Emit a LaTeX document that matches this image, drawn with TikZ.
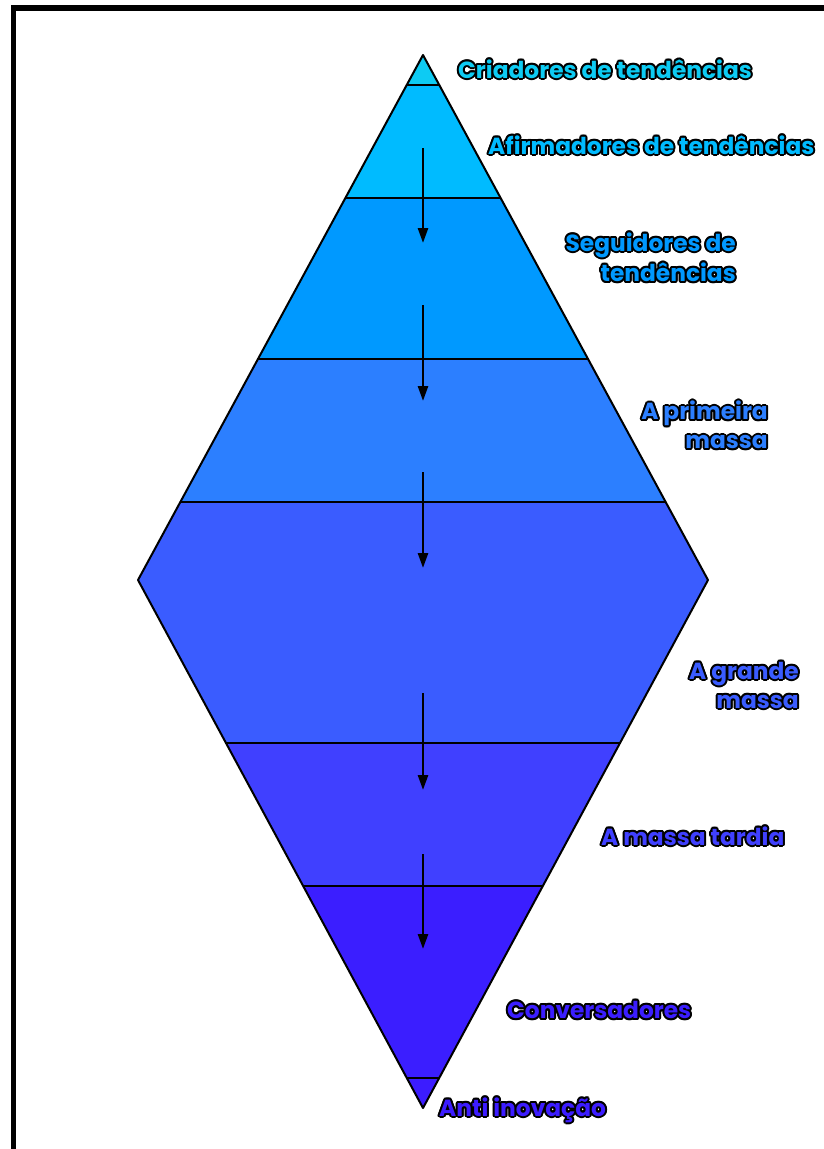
\documentclass[tikz,border=0pt]{standalone}
\usepackage{fontspec}
\setmainfont{Poppins}[BoldFont={* Bold}]
\usetikzlibrary{arrows.meta}
\definecolor{cA}{HTML}{0DCBF3}
\definecolor{cB}{HTML}{00BBFF}
\definecolor{cC}{HTML}{0099FF}
\definecolor{cD}{HTML}{2C7FFF}
\definecolor{cE}{HTML}{3A5CFF}
\definecolor{cF}{HTML}{4040FF}
\definecolor{cG}{HTML}{3B1EFF}
\definecolor{cH}{HTML}{3C1CFF}
\newcommand\outl[2]{\leavevmode\foreach \a in {0,30,...,330}{\rlap{\kern\fpeval{2.0*cosd(\a)}pt\raisebox{\fpeval{2.0*sind(\a)}pt}{\color{black}#2}}}\textcolor{#1}{#2}}
\tikzset{
  band/.style={draw=black, line width=2pt, line join=round},
  flow/.style={draw=black, line width=2.6pt, -{Triangle[width=10pt,length=15pt]}},
  lab/.style={font=\bfseries\fontsize{23.3}{29}\selectfont, inner sep=0pt, align=right},
}
\begin{document}
\begin{tikzpicture}[x=1pt,y=-1pt]
\useasboundingbox (0,0) rectangle (823,1149);
\fill[white] (0,0) rectangle (823,1149);
\draw[line width=5.5pt] (13.5,1200) -- (13.5,8) -- (900,8);
% points
\coordinate (T) at (423,55);
\coordinate (L) at (138,580);
\coordinate (R) at (708,580);
\coordinate (B) at (423,1108);
% bands
\fill[cA] (423,55) -- (439.3,85) -- (406.7,85) -- cycle;
\fill[cB] (406.7,85) -- (439.3,85) -- (500.6,198) -- (345.4,198) -- cycle;
\fill[cC] (345.4,198) -- (500.6,198) -- (588,359) -- (258,359) -- cycle;
\fill[cD] (258,359) -- (588,359) -- (665.6,502) -- (180.4,502) -- cycle;
\fill[cE] (180.4,502) -- (665.6,502) -- (708,580) -- (620,743) -- (226,743) -- (138,580) -- cycle;
\fill[cF] (226,743) -- (620,743) -- (542.8,886) -- (303.2,886) -- cycle;
\fill[cG] (303.2,886) -- (542.8,886) -- (439.2,1078) -- (406.8,1078) -- cycle;
\fill[cH] (406.8,1078) -- (439.2,1078) -- (423,1108) -- cycle;
\foreach \y/\xl/\xr in {85/406.7/439.3, 198/345.4/500.6, 359/258/588, 502/180.4/665.6, 743/226/620, 886/303.2/542.8, 1078/406.8/439.2}
  \draw[line width=2pt] (\xl,\y) -- (\xr,\y);
\draw[band] (T) -- (R) -- (B) -- (L) -- cycle;
% arrows
\coordinate (a1) at (423,148); \coordinate (b1) at (423,243);
\coordinate (a2) at (423,305); \coordinate (b2) at (423,401);
\coordinate (a3) at (423,472); \coordinate (b3) at (423,568);
\coordinate (a4) at (423,693); \coordinate (b4) at (423,790);
\coordinate (a5) at (423,854); \coordinate (b5) at (423,949);
\foreach \i in {1,...,5} \draw[flow] (a\i) -- (b\i);
% labels
\node[lab, anchor=west] (l1) at (458,69) {\outl{cA}{Criadores de tendências}};
\node[lab, anchor=west] (l2) at (488,145) {\outl{cB}{Afirmadores de tendências}};
\node[lab, anchor=east] (l3) at (736,257) {\outl{cC}{Seguidores de}\\\outl{cC}{tendências}};
\node[lab, anchor=east] (l4) at (768,425) {\outl{cD}{A primeira}\\\outl{cD}{massa}};
\node[lab, anchor=east] (l5) at (799,685) {\outl{cE}{A grande}\\\outl{cE}{massa}};
\node[lab, anchor=west] (l6) at (601,836) {\outl{cF}{A massa tardia}};
\node[lab, anchor=west] (l7) at (507,1010) {\outl{cG}{Conversadores}};
\node[lab, anchor=west] (l8) at (439,1110) {\outl{cH}{Anti inovação}};
\end{tikzpicture}
\end{document}
